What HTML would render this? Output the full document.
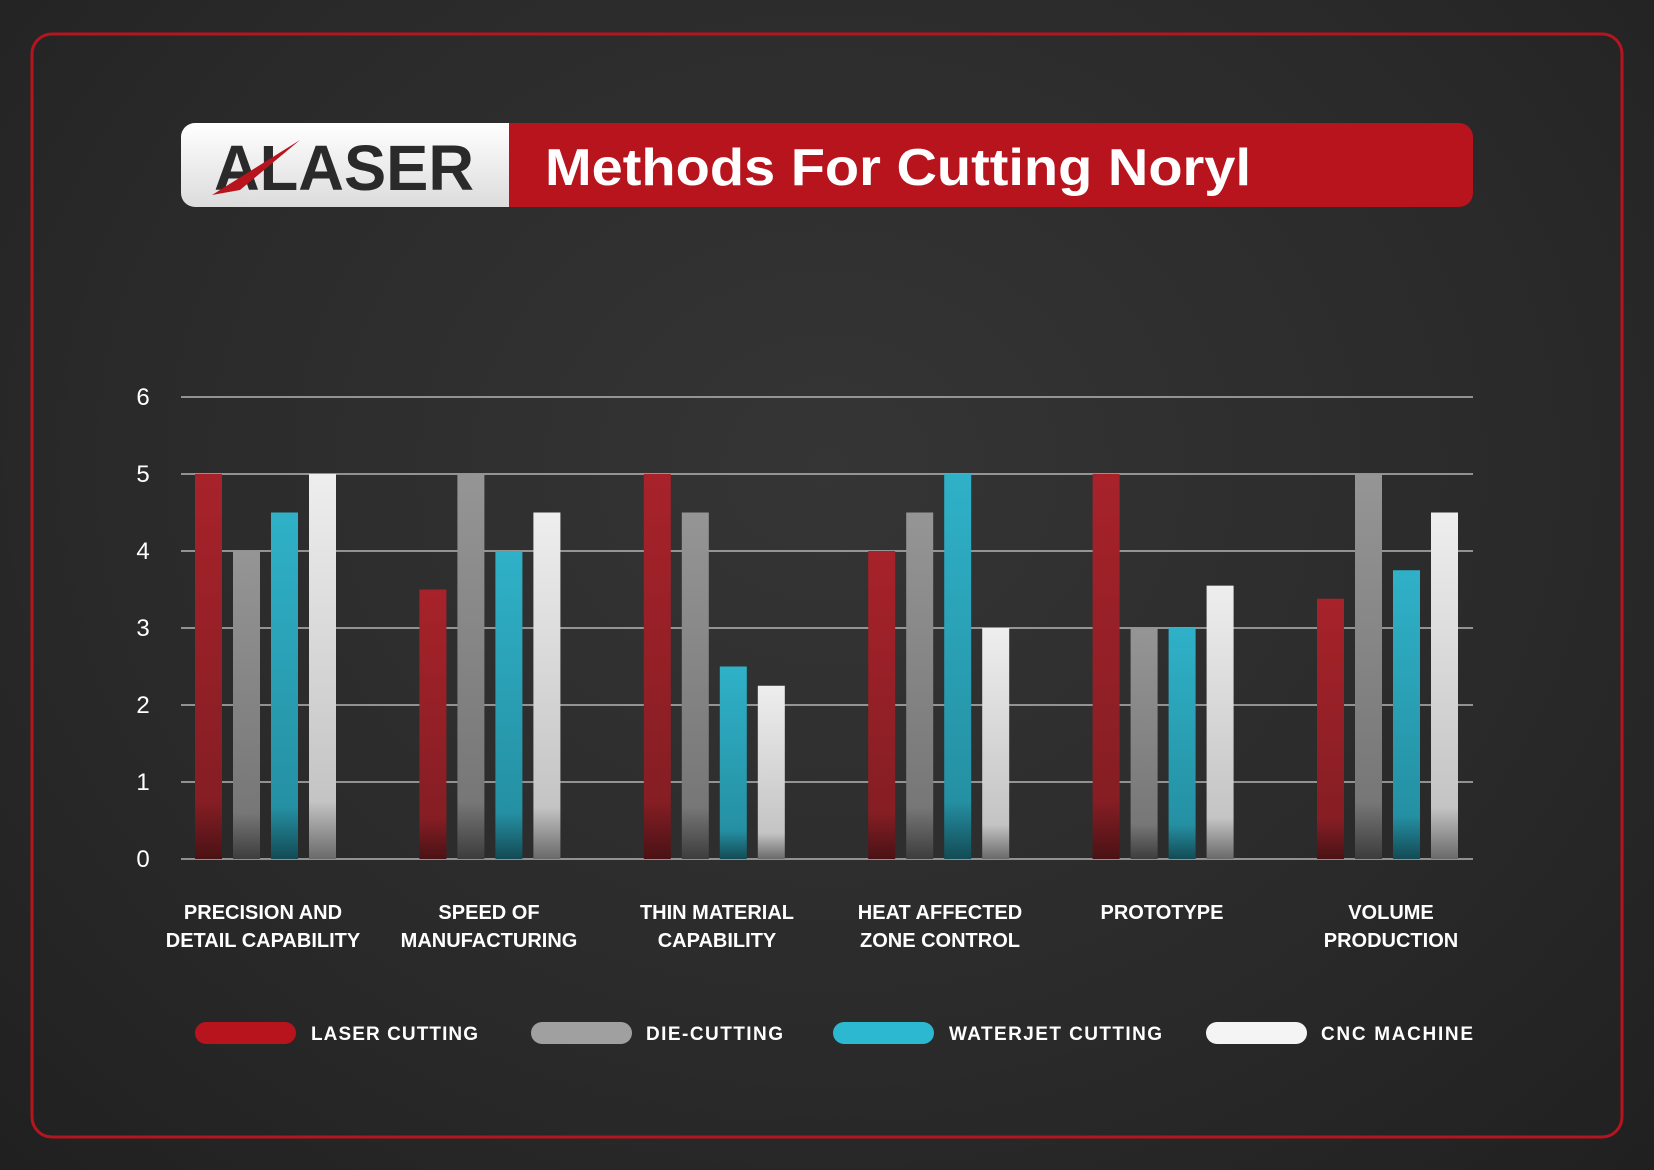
<!DOCTYPE html>
<html><head><meta charset="utf-8"><style>
body{margin:0;width:1654px;height:1170px;overflow:hidden;background:radial-gradient(ellipse at 50% 40%,#353535 0%,#2a2a2a 60%,#202020 100%);font-family:"Liberation Sans",sans-serif;}
</style></head><body>
<svg width="1654" height="1170" xmlns="http://www.w3.org/2000/svg" style="position:absolute;left:0;top:0">
<defs>
<linearGradient id="r" x1="0" y1="0" x2="0" y2="1"><stop offset="0" stop-color="#a8222a"/><stop offset="0.85" stop-color="#851e24"/><stop offset="1" stop-color="#4a1215"/></linearGradient>
<linearGradient id="g" x1="0" y1="0" x2="0" y2="1"><stop offset="0" stop-color="#959595"/><stop offset="0.85" stop-color="#777"/><stop offset="1" stop-color="#3d3d3d"/></linearGradient>
<linearGradient id="b" x1="0" y1="0" x2="0" y2="1"><stop offset="0" stop-color="#2fb1c8"/><stop offset="0.85" stop-color="#2590a3"/><stop offset="1" stop-color="#134b55"/></linearGradient>
<linearGradient id="w" x1="0" y1="0" x2="0" y2="1"><stop offset="0" stop-color="#eeeeee"/><stop offset="0.85" stop-color="#c4c4c4"/><stop offset="1" stop-color="#6a6a6a"/></linearGradient>
<linearGradient id="wh" x1="0" y1="0" x2="0" y2="1"><stop offset="0" stop-color="#ffffff"/><stop offset="1" stop-color="#dcdcdc"/></linearGradient>
</defs>
<rect x="32" y="34" width="1590" height="1103" rx="20" fill="none" stroke="#b5151f" stroke-width="3"/>
<rect x="181" y="123" width="1292" height="84" rx="14" fill="#b8141e"/>
<path d="M195 123 H509 V207 H195 A14 14 0 0 1 181 193 V137 A14 14 0 0 1 195 123Z" fill="url(#wh)"/>
<text x="214" y="190" font-size="64" font-weight="bold" fill="#2a2a2a" textLength="260" lengthAdjust="spacingAndGlyphs">ALASER</text>
<path d="M212 195 L300 140 L240 190Z" fill="#b8141e"/>
<text x="545" y="185" font-size="52" font-weight="bold" fill="#fff" textLength="706" lengthAdjust="spacingAndGlyphs">Methods For Cutting Noryl</text>
<g stroke="#cfcfcf" stroke-width="1.2">
<line x1="181" y1="397" x2="1473" y2="397"/><line x1="181" y1="474" x2="1473" y2="474"/><line x1="181" y1="551" x2="1473" y2="551"/><line x1="181" y1="628" x2="1473" y2="628"/><line x1="181" y1="705" x2="1473" y2="705"/><line x1="181" y1="782" x2="1473" y2="782"/><line x1="181" y1="859" x2="1473" y2="859"/>
</g>
<g fill="#fff" font-size="24" text-anchor="middle">
<text x="143" y="405">6</text><text x="143" y="482">5</text><text x="143" y="559">4</text><text x="143" y="636">3</text><text x="143" y="713">2</text><text x="143" y="790">1</text><text x="143" y="867">0</text>
</g>
<g id="bars"></g>
<g fill="#fff" font-size="20" font-weight="bold" text-anchor="middle">
<text x="263" y="919">PRECISION AND</text><text x="263" y="947">DETAIL CAPABILITY</text>
<text x="489" y="919">SPEED OF</text><text x="489" y="947">MANUFACTURING</text>
<text x="717" y="919">THIN MATERIAL</text><text x="717" y="947">CAPABILITY</text>
<text x="940" y="919">HEAT AFFECTED</text><text x="940" y="947">ZONE CONTROL</text>
<text x="1162" y="919">PROTOTYPE</text>
<text x="1391" y="919">VOLUME</text><text x="1391" y="947">PRODUCTION</text>
</g>
<rect x="195" y="1022" width="101" height="22" rx="11" fill="#b8141e"/>
<rect x="531" y="1022" width="101" height="22" rx="11" fill="#a0a0a0"/>
<rect x="833" y="1022" width="101" height="22" rx="11" fill="#2bb8d0"/>
<rect x="1206" y="1022" width="101" height="22" rx="11" fill="#f4f4f4"/>
<g fill="#fff" font-size="19" font-weight="bold">
<text x="311" y="1040" textLength="167">LASER CUTTING</text><text x="646" y="1040" textLength="137">DIE-CUTTING</text><text x="949" y="1040" textLength="213">WATERJET CUTTING</text><text x="1321" y="1040" textLength="152">CNC MACHINE</text>
</g>
</svg>
<script>
var d=[[5,4,4.5,5],[3.5,5,4,4.5],[5,4.5,2.5,2.25],[4,4.5,5,3],[5,3,3,3.55],[3.38,5,3.75,4.5]];
var f=['url(#r)','url(#g)','url(#b)','url(#w)'];var s='';
for(var i=0;i<6;i++)for(var j=0;j<4;j++){var x=195+i*224.4+j*38,h=d[i][j]*77;s+='<rect x="'+x+'" y="'+(859-h)+'" width="27" height="'+h+'" fill="'+f[j]+'"/>';}
document.getElementById('bars').innerHTML=s;
</script>
</body></html>
